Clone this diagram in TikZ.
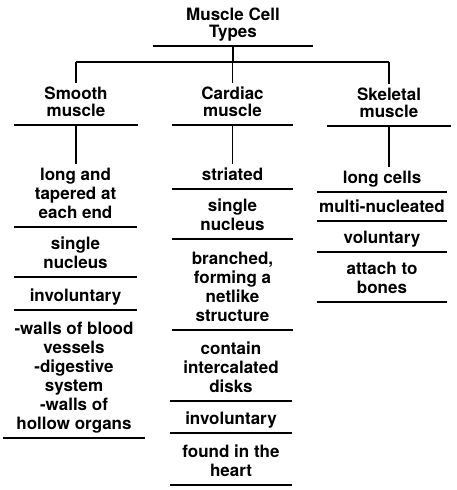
\documentclass[tikz,border=0pt]{standalone}
\usepackage{fontspec}
\setmainfont{TeX Gyre Heros}

\begin{document}
\begin{tikzpicture}[x=1pt, y=-1pt,
    hd/.style={anchor=south, align=center, inner xsep=0pt, inner ysep=4pt,
               minimum width=#1, font=\fontsize{17}{17}\selectfont\bfseries,
               execute at end node={\rule[-4pt]{0pt}{4pt}}},
    it/.style={hd=#1, font=\fontsize{17}{19}\selectfont\bfseries},
    it/.default=123,
    ln/.style={line width=1.3pt},
  ]
  \useasboundingbox (0,0) rectangle (457,490);
  % title and column heads
  \node[hd=160] (t) at (233, 46) {Muscle Cell\\Types};
  \coordinate (br) at (233, 62);
  \node[hd=123] (hs) at (76, 125) {Smooth\\muscle};
  \node[hd=121] (hc) at (232.5, 125) {Cardiac\\muscle};
  \node[hd=124] (hk) at (389, 126) {Skeletal\\muscle};
  % smooth
  \node[it] (s1) at (75.5, 227) {long and\\tapered at\\each end};
  \node[it] (s2) at (75.5, 277) {single\\nucleus};
  \node[it] (s3) at (75.5, 310) {involuntary};
  \node[it=142] (s4) at (74, 438) {-walls of blood\\vessels\\-digestive\\system\\-walls of\\hollow organs};
  % cardiac
  \node[it=121] (c1) at (232.5, 189) {striated};
  \node[it=121] (c2) at (232.5, 239) {single\\nucleus};
  \node[it=121] (c3) at (232.5, 330) {branched,\\forming a\\netlike\\structure};
  \node[it=122] (c4) at (231, 401) {contain\\intercalated\\disks};
  \node[it=122] (c5) at (231, 433) {involuntary};
  \node[it=122] (c6) at (231, 485) {found in the\\heart};
  % skeletal
  \node[it=130] (k1) at (382, 192) {long cells};
  \node[it=130] (k2) at (382, 221) {multi-nucleated};
  \node[it=130] (k3) at (382, 252) {voluntary};
  \node[it=130] (k4) at (382, 302) {attach to\\bones};
  \foreach \n in {t,hs,hc,hk,s1,s2,s3,s4,c1,c2,c3,c4,c5,c6,k1,k2,k3,k4}
    \draw[ln] (\n.south west) -- (\n.south east);
  \draw[ln] (t.south) -- (br);
  \draw[ln] (hs.north |- br) -- (hk.north |- br);
  \foreach \n in {hs,hc,hk}
    \draw[ln] (\n.north |- br) -- (\n.north);
  \draw[ln] (hs.south) -- (hs.south |- s1.north);
  \draw[ln] (hc.south) -- (hc.south |- c1.north);
  \draw[ln] (hk.south) -- (hk.south |- k1.north);
\end{tikzpicture}
\end{document}
